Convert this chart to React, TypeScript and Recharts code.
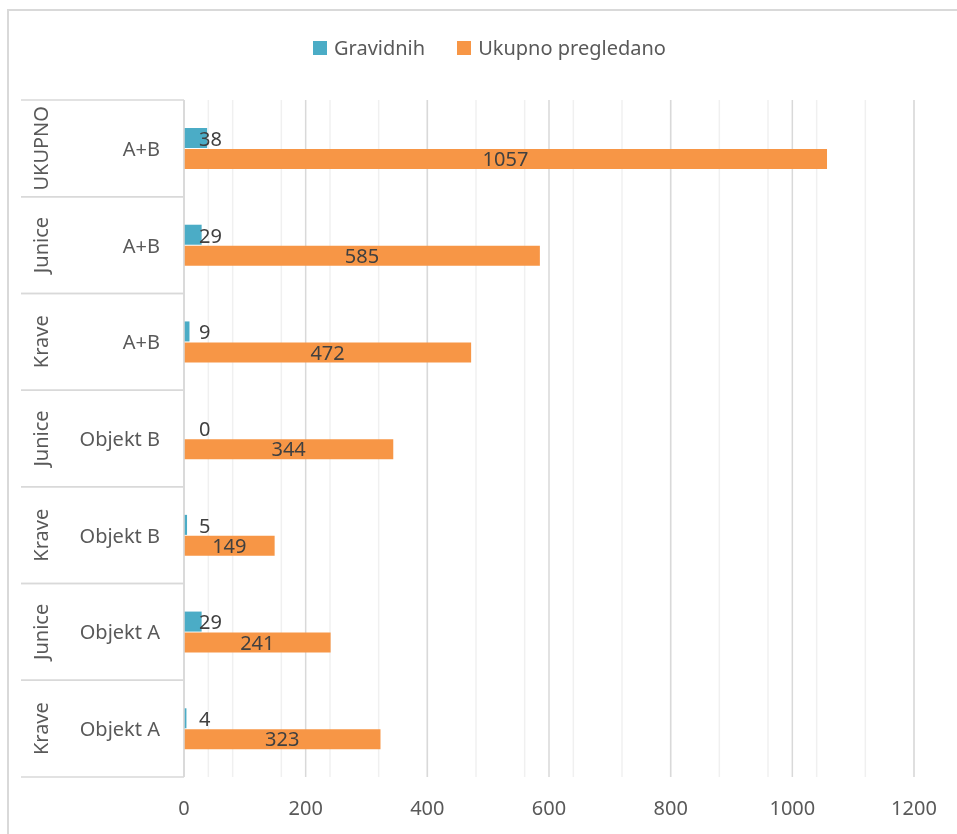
import { BarChart, Bar, XAxis, YAxis, CartesianGrid, LabelList } from 'recharts';

// bottom-to-top order, as in the source spreadsheet
const groupLabels = ['Krave', 'Junice', 'Krave', 'Junice', 'Krave', 'Junice', 'UKUPNO'];
const subLabels = ['Objekt A', 'Objekt A', 'Objekt B', 'Objekt B', 'A+B', 'A+B', 'A+B'];
const gravidnih = [4, 29, 5, 0, 9, 29, 38];
const ukupnoPregledano = [323, 241, 149, 344, 472, 585, 1057];

const majorTicks = [0, 200, 400, 600, 800, 1000, 1200];
const minorTicks = [
    0, 40, 80, 120, 160, 200, 240, 280, 320, 360, 400, 440, 480, 520, 560, 600,
    640, 680, 720, 760, 800, 840, 880, 920, 960, 1000, 1040, 1080, 1120, 1160, 1200,
];

const TEAL = '#4BACC6';
const ORANGE = '#F79646';
const FONT = '"Noto Sans", "Open Sans", sans-serif';

const WIDTH = 941;
const HEIGHT = 818;
const MARGIN_TOP = 92;
const AXIS_H = 49;
const BAND = (HEIGHT - MARGIN_TOP - AXIS_H) / groupLabels.length;

const chartData = groupLabels.map((g, i) => ({
    key: `${g} ${subLabels[i]}`,
    Gravidnih: gravidnih[i],
    'Ukupno pregledano': ukupnoPregledano[i],
}));

// category tick draws both label levels, the divider lines and the
// Gravidnih value label (Recharts drops labels on zero-width bars)
const CategoryTick = ({ x, y, index }: any) => {
    const half = BAND / 2;
    return (
        <g>
            <line x1={13} x2={x} y1={y - half} y2={y - half} stroke="#d9d9d9" strokeWidth={1.5} />
            <line x1={13} x2={x} y1={y + half} y2={y + half} stroke="#d9d9d9" strokeWidth={1.5} />
            <text x={x - 24} y={y} textAnchor="end" dominantBaseline="central" fill="#595959" fontSize={20} fontFamily={FONT}>
                {subLabels[index]}
            </text>
            <text
                transform={`translate(32, ${y}) rotate(-90)`}
                textAnchor="middle"
                dominantBaseline="central"
                fill="#595959"
                fontSize={20}
                fontFamily={FONT}
            >
                {groupLabels[index]}
            </text>
            <text x={x + 15} y={y - 10} dominantBaseline="central" fill="#404040" fontSize={20} fontFamily={FONT}>
                {gravidnih[index]}
            </text>
        </g>
    );
};

const ValueTick = ({ x, y, payload }: any) => (
    <text x={x} y={y + 38} textAnchor="middle" fill="#595959" fontSize={20} fontFamily={FONT}>
        {payload.value}
    </text>
);

function App() {
    return (
        <div style={{ position: 'relative', width: WIDTH, height: HEIGHT, fontFamily: FONT }}>
            <div
                style={{
                    position: 'fixed', left: 7, top: 9, width: 1000, height: 900,
                    borderLeft: '2px solid #d9d9d9', borderTop: '2px solid #d9d9d9', pointerEvents: 'none',
                }}
            />
            <div
                style={{
                    position: 'absolute', top: 26, left: 305, display: 'flex', alignItems: 'center',
                    fontSize: 20, color: '#595959', whiteSpace: 'nowrap',
                }}
            >
                <span style={{ width: 14, height: 14, background: TEAL, display: 'inline-block', marginRight: 7 }} />
                <span>Gravidnih</span>
                <span style={{ width: 14, height: 14, background: ORANGE, display: 'inline-block', marginLeft: 32, marginRight: 7 }} />
                <span>Ukupno pregledano</span>
            </div>
            <div style={{ position: 'absolute', left: 0, top: 0 }}>
                <BarChart
                    width={WIDTH}
                    height={HEIGHT}
                    data={chartData}
                    layout="vertical"
                    margin={{ top: MARGIN_TOP, right: 35, bottom: 0, left: 0 }}
                    barSize={20}
                    barGap={1}
                >
                    <CartesianGrid horizontal={false} verticalValues={minorTicks} stroke="#f0f0f0" strokeWidth={1.5} />
                    <CartesianGrid horizontal={false} stroke="#d9d9d9" strokeWidth={1.5} />
                    <XAxis
                        type="number"
                        domain={[0, 1200]}
                        ticks={majorTicks}
                        axisLine={false}
                        tickLine={false}
                        tickSize={0}
                        tickMargin={0}
                        height={AXIS_H}
                        tick={<ValueTick />}
                    />
                    <YAxis
                        type="category"
                        dataKey="key"
                        reversed
                        width={176}
                        axisLine={{ stroke: '#d9d9d9', strokeWidth: 1.5 }}
                        tickLine={false}
                        tickSize={0}
                        tickMargin={0}
                        tick={<CategoryTick />}
                        interval={0}
                    />
                    <Bar dataKey="Gravidnih" fill={TEAL} isAnimationActive={false} />
                    <Bar dataKey="Ukupno pregledano" fill={ORANGE} isAnimationActive={false}>
                        <LabelList dataKey="Ukupno pregledano" position="center" fill="#404040" fontSize={20} fontFamily={FONT} />
                    </Bar>
                </BarChart>
            </div>
        </div>
    );
}

export default App;
